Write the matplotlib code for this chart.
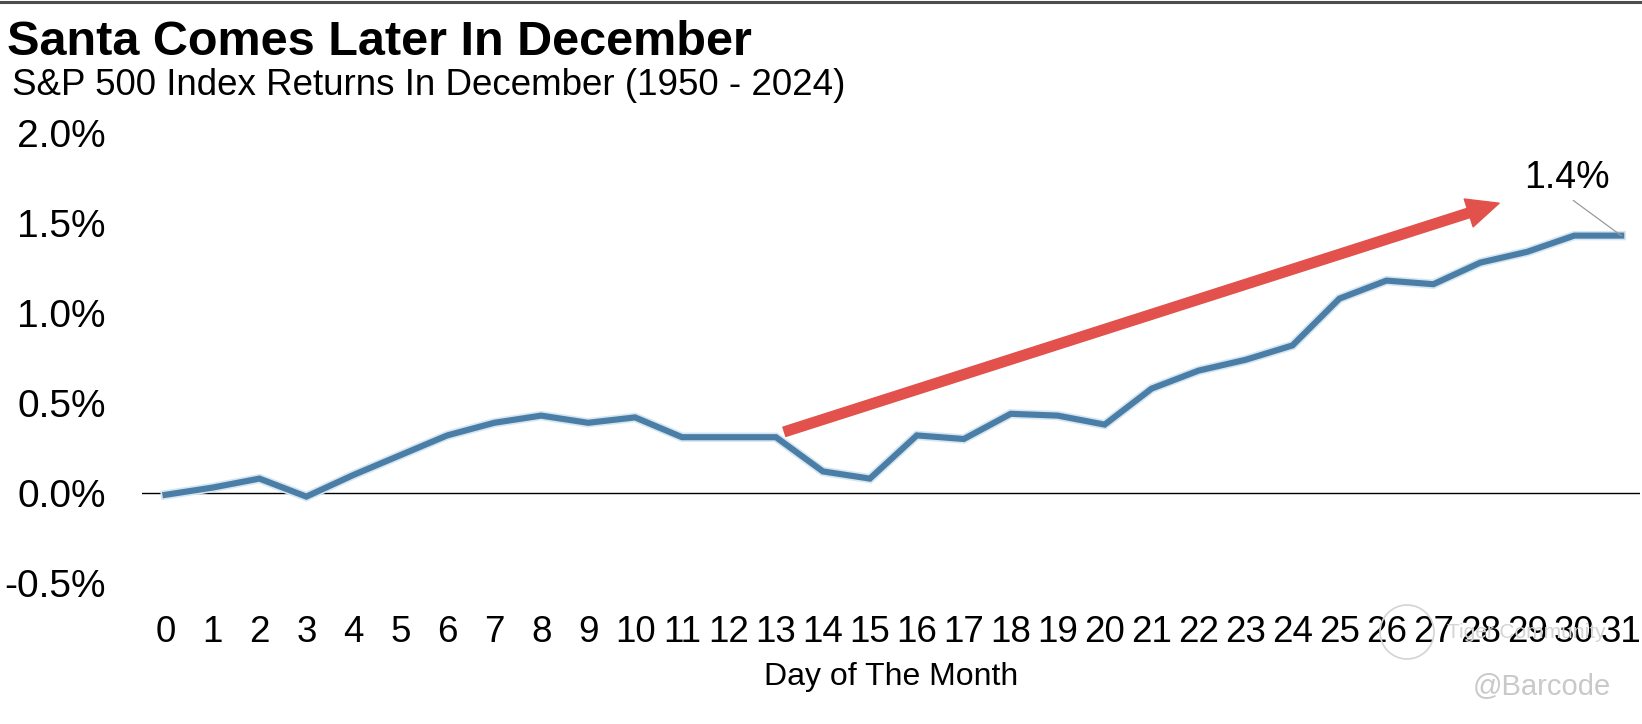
#!/usr/bin/env python3
"""
Santa Comes Later In December: average S&P 500 path through December (1950-2024).
"""
import matplotlib
matplotlib.use("Agg")
import matplotlib.pyplot as plt
import matplotlib.patheffects as pe
from matplotlib.lines import Line2D
from matplotlib.patches import Circle
from matplotlib.ticker import FuncFormatter

plt.rcParams['font.family'] = ['Liberation Sans', 'DejaVu Sans']
plt.rcParams['axes.unicode_minus'] = False

# cumulative return (%) by trading day of the month
days    = list(range(0, 32))
returns = [-0.01, 0.03, 0.08, -0.02, 0.10, 0.21, 0.32, 0.39, 0.43, 0.39,
           0.42, 0.31, 0.31, 0.31, 0.12, 0.08, 0.32, 0.30, 0.44, 0.43,
           0.38, 0.58, 0.68, 0.74, 0.82, 1.08, 1.18, 1.16, 1.28, 1.34,
           1.43, 1.43]
y_ticks = [-0.5, 0.0, 0.5, 1.0, 1.5, 2.0]

# trend arrow (day, %) and end label
ARROW_TAIL = (13.18, 0.34)
ARROW_TIP  = (28.4, 1.61)
END_LABEL  = "1.4%"
END_LABEL_POS = (29.85, 1.75)

TITLE    = "Santa Comes Later In December"
SUBTITLE = "S&P 500 Index Returns In December (1950 - 2024)"
XLABEL   = "Day of The Month"

BLUE = '#4a7ea6'
RED  = '#e2514c'

W, H = 1642, 724
fig = plt.figure(figsize=(W / 100, H / 100), dpi=100)
ax = fig.add_axes([142 / W, 1 - 583 / H, (1640 - 142) / W, (583 - 133) / H])

ax.axhline(0, color='black', lw=1.0, zorder=1)
ax.plot(days, returns, color=BLUE, lw=4.4, solid_joinstyle='miter', zorder=3,
        path_effects=[pe.Stroke(linewidth=6.8, foreground='#d5e6f1'), pe.Normal()])

ax.annotate('', xy=ARROW_TIP, xytext=ARROW_TAIL,
            arrowprops=dict(arrowstyle='simple,head_width=1.05,head_length=1.15,tail_width=0.35',
                            mutation_scale=20, color=RED, shrinkA=0, shrinkB=0),
            zorder=4)

ax.annotate(END_LABEL, xy=(days[-1], returns[-1]), xytext=END_LABEL_POS,
            ha='center', va='center', fontsize=27,
            arrowprops=dict(arrowstyle='-', color='#9a9a9a', lw=0.9,
                            relpos=(0.5, 0), shrinkA=2, shrinkB=0))

ax.set_xlim(-0.5, 31.4)
ax.set_ylim(-0.5, 2.0)
ax.set_xticks(days)
ax.set_yticks(y_ticks)
ax.yaxis.set_major_formatter(FuncFormatter(lambda v, _: f"{v:.1f}%"))
ax.tick_params(axis='y', length=0, pad=26, labelsize=28)
ax.tick_params(axis='x', length=0, pad=23, labelsize=26.5)
ax.set_xlabel(XLABEL, fontsize=23, labelpad=9)
for s in ax.spines.values():
    s.set_visible(False)

fig.text(7 / W, 1 - 55 / H, TITLE, fontsize=35, fontweight='bold', va='baseline')
fig.text(12 / W, 1 - 95 / H, SUBTITLE, fontsize=26.5, va='baseline')

# frame line across the top
fig.add_artist(Line2D([0, 1], [1 - 1.5 / H, 1 - 1.5 / H], transform=fig.transFigure,
                      color='#4d4d4d', lw=2.2))

# faint watermark, bottom right
fig.text(1447 / W, 1 - 632 / H, "Tiger Community", fontsize=15, color='#d4d4d4',
         va='center', zorder=0)
fig.patches.append(Circle((1407 / 100, (H - 632) / 100), 0.27, fill=False,
                          ec='#d4d4d4', lw=1.2, transform=fig.dpi_scale_trans,
                          figure=fig, zorder=0))
fig.text(1473 / W, 1 - 695 / H, "@Barcode", fontsize=21, color='#c9c9c9',
         va='baseline')

fig.savefig("out.png", dpi=100)
